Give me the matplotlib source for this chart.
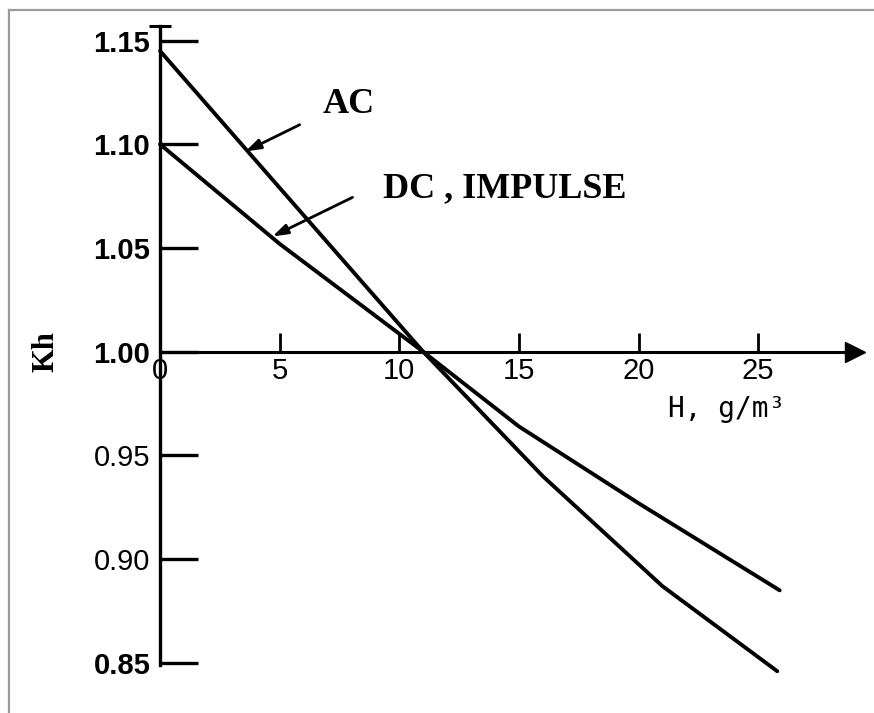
import matplotlib
matplotlib.use('Agg')
from matplotlib import pyplot as plt
from matplotlib.lines import Line2D

# humidity correction factor Kh vs absolute humidity H
ac_h = [0.0, 5.0, 11.0, 16.0, 21.0, 25.8]
ac_kh = [1.145, 1.079, 1.000, 0.940, 0.887, 0.846]

dc_h = [0.0, 5.0, 11.0, 15.0, 20.0, 25.9]
dc_kh = [1.100, 1.052, 1.000, 0.964, 0.927, 0.885]

xticks = [0, 5, 10, 15, 20, 25]
yticks = [0.85, 0.90, 0.95, 1.00, 1.05, 1.10, 1.15]
ylabels = ['0.85', '0.90', '0.95', '1.00', '1.05', '1.10', '1.15']
bold_labels = ['0.85', '1.00', '1.05', '1.10', '1.15']

fig = plt.figure(figsize=(8.74, 7.13), dpi=100)
ax = fig.add_axes([0.1831, 0.0673, 0.7952, 0.8962])
ax.set_xlim(0, 29.05)
ax.set_ylim(0.849, 1.157)

ax.plot(ac_h, ac_kh, color='black', lw=2.8, solid_capstyle='round', clip_on=False)
ax.plot(dc_h, dc_kh, color='black', lw=2.8, solid_capstyle='round', clip_on=False)

# axes: y on the left, x crossing at Kh = 1.00 with an arrow
for s in ['top', 'right']:
    ax.spines[s].set_visible(False)
ax.spines['left'].set_linewidth(2.4)
ax.spines['bottom'].set_position(('data', 1.0))
ax.spines['bottom'].set_linewidth(2.2)
ax.plot(1, 1.0, marker='>', ms=15, color='black', transform=ax.get_yaxis_transform(), clip_on=False)
ax.plot(0, 1, marker='_', ms=16, mew=2.2, color='black', transform=ax.transAxes, clip_on=False)

ax.set_xticks(xticks)
ax.set_xticklabels([str(t) for t in xticks], fontfamily='Liberation Sans', fontsize=21)
ax.tick_params(axis='x', direction='in', length=14, width=2, pad=4)

ax.set_yticks(yticks)
ax.set_yticklabels(ylabels, fontfamily='Liberation Sans', fontsize=21)
ax.tick_params(axis='y', direction='in', length=27, width=2.4, pad=7)
for lab in ax.get_yticklabels():
    if lab.get_text() in bold_labels:
        lab.set_fontweight('bold')

ax.text(21.24, 0.9687, 'H, g/m³', fontfamily='DejaVu Sans Mono', fontsize=20,
        ha='left', va='baseline')
ax.text(-4.75, 1.0, 'Kh', fontfamily='Liberation Serif', fontweight='bold', fontsize=22,
        rotation=90, ha='center', va='center')

arrow = dict(arrowstyle='-|>,head_length=0.9,head_width=0.3', color='black', lw=2)
ax.annotate('', xy=(3.47, 1.096), xytext=(5.94, 1.110), arrowprops=arrow)
ax.annotate('', xy=(4.60, 1.055), xytext=(8.15, 1.075), arrowprops=arrow)
ax.text(6.81, 1.1152, 'AC', fontfamily='Liberation Serif', fontweight='bold', fontsize=26,
        ha='left', va='baseline')
ax.text(9.32, 1.0747, 'DC , IMPULSE', fontfamily='Liberation Serif', fontweight='bold',
        fontsize=26, ha='left', va='baseline')

# thin grey frame of the scanned page (left and top edges)
fig.add_artist(Line2D([9/874, 9/874], [0, 1 - 10/713], color='#9a9a9a', lw=1.6))
fig.add_artist(Line2D([9/874, 1], [1 - 10/713, 1 - 10/713], color='#9a9a9a', lw=1.6))

fig.savefig('out.png', dpi=100)
